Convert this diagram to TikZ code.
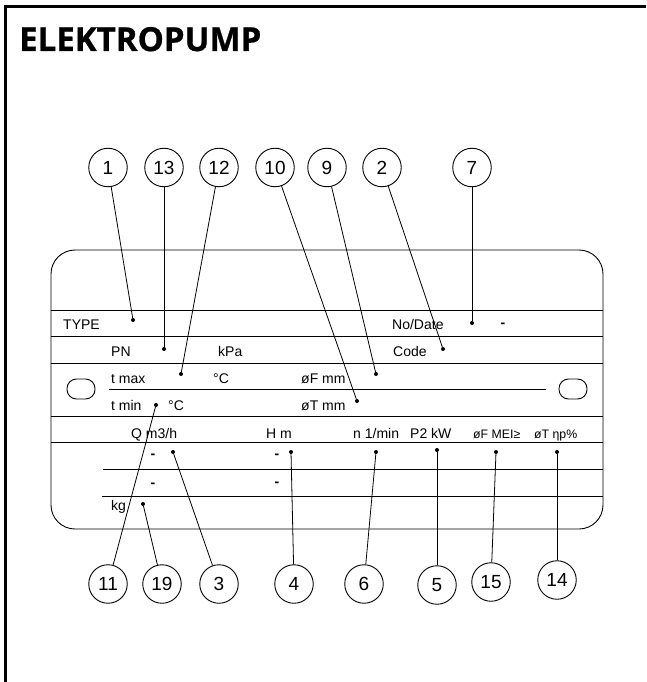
\documentclass[tikz,border=0pt]{standalone}
\usepackage{fontspec}
\setmainfont{Liberation Sans}
\newfontfamily\titlefont{Open Sans}[BoldFeatures={FakeBold=0.8}]
\begin{document}
\begin{tikzpicture}[x=1pt,y=-1pt,
  num/.style={circle,draw,line width=0.9pt,minimum size=38.5pt,inner sep=0pt,font=\fontsize{19}{19}\selectfont},
  lbl/.style={anchor=base west,inner sep=0pt,font=\fontsize{14}{14}\selectfont},
  slbl/.style={anchor=base west,inner sep=0pt,font=\fontsize{12.3}{12.3}\selectfont},
  dashn/.style={anchor=base,inner sep=0pt,font=\bfseries\fontsize{14}{14}\selectfont},
  dotn/.style={circle,fill,inner sep=0pt,minimum size=4pt},
  lead/.style={line width=0.8pt},
  plateline/.style={line width=0.9pt},
  frameline/.style={line width=3pt}]
\useasboundingbox (0,0) rectangle (646,682);
% outer frame
\draw[frameline] (5,682) -- (5,6.5) -- (646,6.5);
% title
\node[anchor=base west,inner sep=0pt,font=\titlefont\bfseries\fontsize{33}{33}\selectfont] (title) at (19,51) {ELEKTROPUMP};
% plate
\draw[plateline,rounded corners=24pt] (51,250) rectangle (603,529);
\draw[plateline] (51,310) -- (603,310);
\draw[plateline] (51,336) -- (603,336);
\draw[plateline] (51,363) -- (603,363);
\draw[plateline] (109,389) -- (546,389);
\draw[plateline] (51,416) -- (603,416);
\draw[plateline] (51,442) -- (603,442);
\draw[plateline] (103,469) -- (603,469);
\draw[plateline] (102,496) -- (603,496);
% ovals
\draw[plateline,rounded corners=9.5pt] (67,379) rectangle (95,399);
\draw[plateline,rounded corners=9.5pt] (559,379) rectangle (587,399);
% texts
\node[lbl] (tType) at (63,329) {TYPE};
\node[lbl] (tNo) at (392,329) {No/Date};
\node[dashn] (dashA) at (503,327) {-};
\node[lbl] (tPN) at (111,356) {PN};
\node[lbl] (tkPa) at (218,356) {kPa};
\node[lbl] (tCode) at (393,356) {Code};
\node[lbl] (tTmax) at (111,383) {t max};
\node[lbl] (tC1) at (213,383) {°C};
\node[lbl] (tFmm) at (301,383) {øF mm};
\node[lbl] (tTmin) at (111,410) {t min};
\node[lbl] (tC2) at (168,410) {°C};
\node[lbl] (tTmm) at (301,410) {øT mm};
\node[lbl] (tQ) at (131,438) {Q m3/h};
\node[lbl] (tH) at (266,438) {H m};
\node[lbl] (tn) at (353,438) {n 1/min};
\node[lbl] (tP2) at (410,438) {P2 kW};
\node[slbl] (tMEI) at (473,438) {øF MEI≥};
\node[slbl] (teta) at (534,438) {øT ηp\%};
\node[dashn] (dashB) at (153,458) {-};
\node[dashn] (dashC) at (277,458) {-};
\node[dashn] (dashD) at (153,487) {-};
\node[dashn] (dashE) at (277,486) {-};
\node[lbl] (tkg) at (111,510) {kg};
% dots
\node[dotn] (d1) at (133,320) {};
\node[dotn] (d7) at (472,323) {};
\node[dotn] (d13) at (164,349) {};
\node[dotn] (d2) at (443,349) {};
\node[dotn] (d12) at (181,374) {};
\node[dotn] (d9) at (376,374) {};
\node[dotn] (d11) at (156,405) {};
\node[dotn] (d10) at (357,401) {};
\node[dotn] (d3) at (173,452) {};
\node[dotn] (d4) at (291,452) {};
\node[dotn] (d6) at (376,452) {};
\node[dotn] (d5) at (437,450) {};
\node[dotn] (d15) at (496,452) {};
\node[dotn] (d14) at (557,452) {};
\node[dotn] (d19) at (143,504) {};
% top circles
\node[num] (c1) at (108,167.5) {1};
\node[num] (c13) at (164,167.5) {13};
\node[num] (c12) at (219,167.5) {12};
\node[num] (c10) at (275,167.5) {10};
\node[num] (c9) at (327,167.5) {9};
\node[num] (c2) at (382,167.5) {2};
\node[num] (c7) at (472,167.5) {7};
% bottom circles
\node[num] (c11) at (108,584) {11};
\node[num] (c19) at (162,584) {19};
\node[num] (c3) at (219,584) {3};
\node[num] (c4) at (294,584) {4};
\node[num] (c6) at (364,584) {6};
\node[num] (c5) at (437,585) {5};
\node[num] (c15) at (491,582) {15};
\node[num] (c14) at (557,580) {14};
% leaders
\draw[lead] (c1) -- (d1);
\draw[lead] (c13) -- (d13);
\draw[lead] (c12) -- (d12);
\draw[lead] (c10) -- (d10);
\draw[lead] (c9) -- (d9);
\draw[lead] (c2) -- (d2);
\draw[lead] (c7) -- (d7);
\draw[lead] (c11) -- (d11);
\draw[lead] (c19) -- (d19);
\draw[lead] (c3) -- (d3);
\draw[lead] (c4) -- (d4);
\draw[lead] (c6) -- (d6);
\draw[lead] (c5) -- (d5);
\draw[lead] (c15) -- (d15);
\draw[lead] (c14) -- (d14);
\end{tikzpicture}
\end{document}
